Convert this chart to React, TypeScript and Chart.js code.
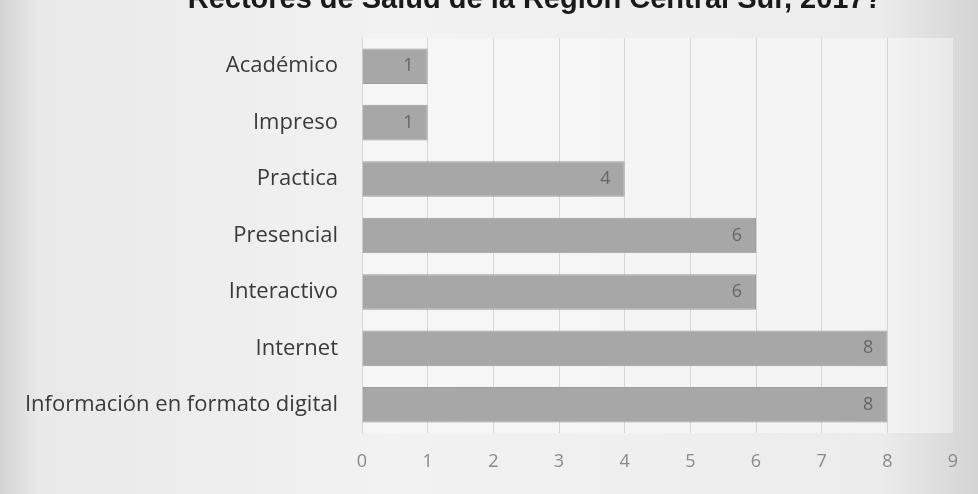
import React, { useEffect, useRef } from "react";
import { Chart, registerables } from "chart.js";

Chart.register(...registerables);

const titleText = "Rectores de Salud de la Región Central Sur, 2017?";
const categories = [
  "Académico",
  "Impreso",
  "Practica",
  "Presencial",
  "Interactivo",
  "Internet",
  "Información en formato digital",
];
const values = [1, 1, 4, 6, 6, 8, 8];
const xTicks = [0, 1, 2, 3, 4, 5, 6, 7, 8, 9];

const bgPlugin = {
  id: "bgPlugin",
  beforeDraw(chart: any) {
    const { ctx, width, height } = chart;
    ctx.save();
    const g = ctx.createLinearGradient(0, 0, width, 0);
    g.addColorStop(0, "#d4d4d4");
    g.addColorStop(0.04, "#e9e9e9");
    g.addColorStop(0.4, "#f2f2f2");
    g.addColorStop(0.9, "#ececec");
    g.addColorStop(1, "#d4d4d4");
    ctx.fillStyle = g;
    ctx.fillRect(0, 0, width, height);
    const a = chart.chartArea;
    ctx.fillStyle = "rgba(255,255,255,0.4)";
    ctx.fillRect(a.left, a.top, a.right - a.left, a.bottom - a.top);
    ctx.restore();
  },
};

const titlePlugin = {
  id: "titlePlugin",
  afterDraw(chart: any) {
    const { ctx } = chart;
    ctx.save();
    ctx.font = "bold 29px 'Liberation Sans', Arial, sans-serif";
    ctx.fillStyle = "#1a1a1a";
    ctx.textAlign = "center";
    ctx.textBaseline = "alphabetic";
    ctx.fillText(titleText, 535, 8);
    ctx.restore();
  },
};

const labelPlugin = {
  id: "labelPlugin",
  afterDatasetsDraw(chart: any) {
    const { ctx } = chart;
    const meta = chart.getDatasetMeta(0);
    ctx.save();
    ctx.font = "18px 'Open Sans', sans-serif";
    ctx.fillStyle = "#666666";
    ctx.textAlign = "right";
    ctx.textBaseline = "middle";
    meta.data.forEach((el: any, i: number) => {
      ctx.fillText(String(values[i]), el.x - 14, el.y);
    });
    ctx.restore();
  },
};

export default function App() {
  const ref = useRef<HTMLCanvasElement | null>(null);
  useEffect(() => {
    if (!ref.current) return;
    const chart = new Chart(ref.current, {
      type: "bar",
      data: {
        labels: categories,
        datasets: [
          {
            data: values,
            backgroundColor: "#a7a7a7",
            borderColor: "#9d9d9d",
            borderWidth: 1,
            barPercentage: 0.63,
            categoryPercentage: 1,
          },
        ],
      },
      plugins: [bgPlugin, titlePlugin, labelPlugin],
      options: {
        indexAxis: "y",
        animation: false,
        responsive: false,
        maintainAspectRatio: false,
        layout: { padding: { top: 38, right: 25, bottom: 0, left: 0 } },
        plugins: { legend: { display: false }, tooltip: { enabled: false }, title: { display: false } },
        scales: {
          x: {
            min: 0,
            max: 9,
            afterBuildTicks(scale: any) {
              scale.ticks = xTicks.map((v) => ({ value: v }));
            },
            afterFit(scale: any) {
              scale.height = 61;
            },
            grid: { color: "#d6d6d6", drawTicks: false, lineWidth: 1 },
            border: { display: false },
            ticks: {
              padding: 18,
              color: "#8a8a8a",
              font: { family: "'Open Sans', sans-serif", size: 18 },
            },
          },
          y: {
            afterFit(scale: any) {
              scale.width = 362;
            },
            grid: { display: false, drawTicks: false },
            border: { display: true, color: "#d6d6d6" },
            ticks: {
              padding: 24,
              color: "#3a3a3a",
              font: { family: "'Open Sans', sans-serif", size: 22 },
            },
          },
        },
      },
    });
    return () => chart.destroy();
  }, []);
  return (
    <div style={{ position: "fixed", left: 0, top: 0, width: 978, height: 494 }}>
      <canvas ref={ref} width={978} height={494} style={{ width: 978, height: 494, display: "block" }} />
    </div>
  );
}
